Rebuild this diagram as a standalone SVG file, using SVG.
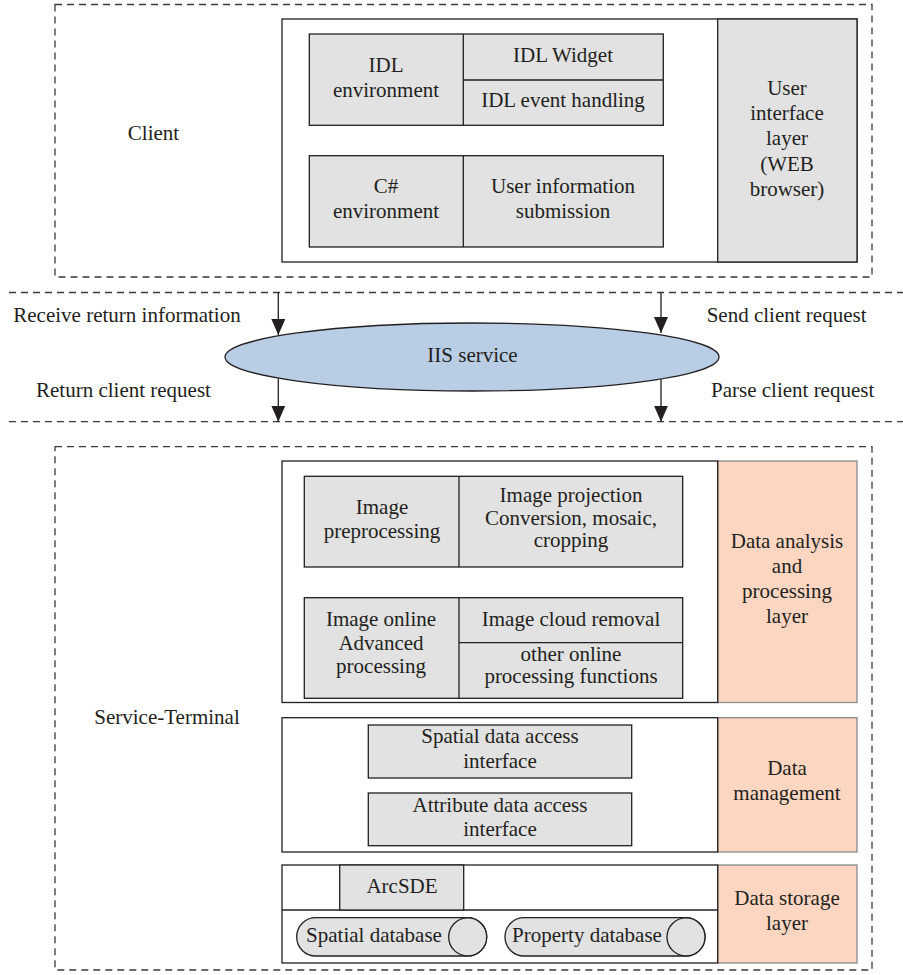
<svg xmlns="http://www.w3.org/2000/svg" width="903" height="975" viewBox="0 0 903 975">
<defs>
<style>
text{font-family:"Liberation Serif","Times New Roman",serif;font-size:21px;fill:#231f20;}
.m{text-anchor:middle;}
.dash{fill:none;stroke:#3a3a3a;stroke-width:1.3;stroke-dasharray:7,5;}
.box{fill:#ffffff;stroke:#231f20;stroke-width:1.3;}
.g{fill:#e1e2e1;stroke:#231f20;stroke-width:1.3;}
.p{fill:#fdd6c1;stroke:#8a8a8a;stroke-width:1.3;}
.ln{fill:none;stroke:#231f20;stroke-width:1.3;}
.conn{fill:none;stroke:#231f20;stroke-width:1.3;}
</style>
<marker id="ah" viewBox="0 0 16 14" refX="16" refY="7" markerWidth="16" markerHeight="14" markerUnits="userSpaceOnUse" orient="auto">
<path d="M0,0 L16,7 L0,14 z" fill="#231f20"/>
</marker>
</defs>
<rect width="903" height="975" fill="#ffffff"/>

<g id="client">
<rect class="dash" x="55" y="4.5" width="817" height="272.5"/>
<text class="m" x="153.5" y="140">Client</text>
<rect class="box" x="282" y="19" width="575" height="243"/>
<rect class="g" x="717.7" y="19" width="139.3" height="243"/>
<text class="m" x="787" y="95">User</text>
<text class="m" x="787" y="120">interface</text>
<text class="m" x="787" y="145">layer</text>
<text class="m" x="787" y="171">(WEB</text>
<text class="m" x="787" y="196">browser)</text>
</g>

<g id="idl">
<rect class="g" x="309.3" y="34" width="354" height="91.3"/>
<line class="ln" x1="463.3" y1="34" x2="463.3" y2="125.3"/>
<line class="ln" x1="463.3" y1="80" x2="663.3" y2="80"/>
<text class="m" x="386" y="72">IDL</text>
<text class="m" x="386" y="97">environment</text>
<text class="m" x="563" y="62">IDL Widget</text>
<text class="m" x="563" y="107">IDL event handling</text>
</g>

<g id="csharp">
<rect class="g" x="309.3" y="155.7" width="354" height="91.3"/>
<line class="ln" x1="463.3" y1="155.7" x2="463.3" y2="247"/>
<text class="m" x="386" y="193">C#</text>
<text class="m" x="386" y="218">environment</text>
<text class="m" x="563" y="193">User information</text>
<text class="m" x="563" y="218">submission</text>
</g>

<g id="separators">
<line class="dash" x1="9" y1="292.5" x2="903" y2="292.5"/>
<line class="dash" x1="9" y1="421.7" x2="903" y2="421.7"/>
</g>

<g id="iis">
<ellipse cx="472" cy="357" rx="247" ry="34" fill="#b9cde5" stroke="#231f20" stroke-width="1.3"/>
<text class="m" x="472.5" y="362">IIS service</text>
</g>

<g id="connectors">
<line class="conn" x1="278.3" y1="292.5" x2="278.3" y2="335" marker-end="url(#ah)"/>
<line class="conn" x1="661" y1="292.5" x2="661" y2="333" marker-end="url(#ah)"/>
<line class="conn" x1="278.3" y1="379" x2="278.3" y2="421.7" marker-end="url(#ah)"/>
<line class="conn" x1="661" y1="379" x2="661" y2="421.7" marker-end="url(#ah)"/>
</g>

<g id="conn-labels">
<text x="13.3" y="322">Receive return information</text>
<text x="706.7" y="322">Send client request</text>
<text x="36" y="397">Return client request</text>
<text x="711" y="397">Parse client request</text>
</g>

<g id="service">
<rect class="dash" x="55" y="446.7" width="817" height="523.3"/>
<text class="m" x="167" y="724">Service-Terminal</text>
</g>

<g id="processing">
<rect class="p" x="717.7" y="461" width="139.3" height="241.5"/>
<rect class="box" x="282" y="461" width="435.7" height="241.5"/>
<text class="m" x="787" y="548">Data analysis</text>
<text class="m" x="787" y="573">and</text>
<text class="m" x="787" y="598">processing</text>
<text class="m" x="787" y="623">layer</text>
</g>

<g id="preprocessing">
<rect class="g" x="304.3" y="476.3" width="378.4" height="90.7"/>
<line class="ln" x1="459" y1="476.3" x2="459" y2="567"/>
<text class="m" x="382" y="514">Image</text>
<text class="m" x="382" y="538">preprocessing</text>
<text class="m" x="571" y="502">Image projection</text>
<text class="m" x="571" y="524.5">Conversion, mosaic,</text>
<text class="m" x="571" y="547">cropping</text>
</g>

<g id="advanced">
<rect class="g" x="304.3" y="597.7" width="378.4" height="100.6"/>
<line class="ln" x1="459" y1="597.7" x2="459" y2="698.3"/>
<line class="ln" x1="459" y1="642.7" x2="682.7" y2="642.7"/>
<text class="m" x="381" y="626">Image online</text>
<text class="m" x="381" y="650">Advanced</text>
<text class="m" x="381" y="673">processing</text>
<text class="m" x="571" y="626">Image cloud removal</text>
<text class="m" x="571" y="661">other online</text>
<text class="m" x="571" y="683">processing functions</text>
</g>

<g id="management">
<rect class="p" x="717.7" y="717.7" width="139.3" height="134.3"/>
<rect class="box" x="282" y="717.7" width="435.7" height="134.3"/>
<text class="m" x="787" y="775">Data</text>
<text class="m" x="787" y="800">management</text>
</g>

<g id="spatial-access">
<rect class="g" x="368.3" y="725" width="263.4" height="53"/>
<text class="m" x="500" y="743">Spatial data access</text>
<text class="m" x="500" y="768">interface</text>
</g>

<g id="attribute-access">
<rect class="g" x="368.3" y="793" width="263.4" height="52.7"/>
<text class="m" x="500" y="812">Attribute data access</text>
<text class="m" x="500" y="836">interface</text>
</g>

<g id="storage">
<rect class="p" x="717.7" y="865" width="139.3" height="98"/>
<rect class="box" x="282" y="865" width="435.7" height="98"/>
<line class="ln" x1="282" y1="910" x2="717.7" y2="910"/>
<text class="m" x="787" y="905">Data storage</text>
<text class="m" x="787" y="930">layer</text>
</g>

<g id="arcsde">
<rect class="g" x="339.7" y="865" width="124" height="45"/>
<text class="m" x="402" y="893">ArcSDE</text>
</g>

<g id="spatial-db">
<rect class="g" x="296.7" y="917.7" width="190" height="38.3" rx="19" ry="19"/>
<circle class="g" cx="467.7" cy="936.9" r="19"/>
<text class="m" x="374" y="942">Spatial database</text>
</g>

<g id="property-db">
<rect class="g" x="505" y="917.7" width="200" height="38.3" rx="19" ry="19"/>
<circle class="g" cx="686" cy="936.9" r="19"/>
<text class="m" x="587" y="942">Property database</text>
</g>
</svg>
